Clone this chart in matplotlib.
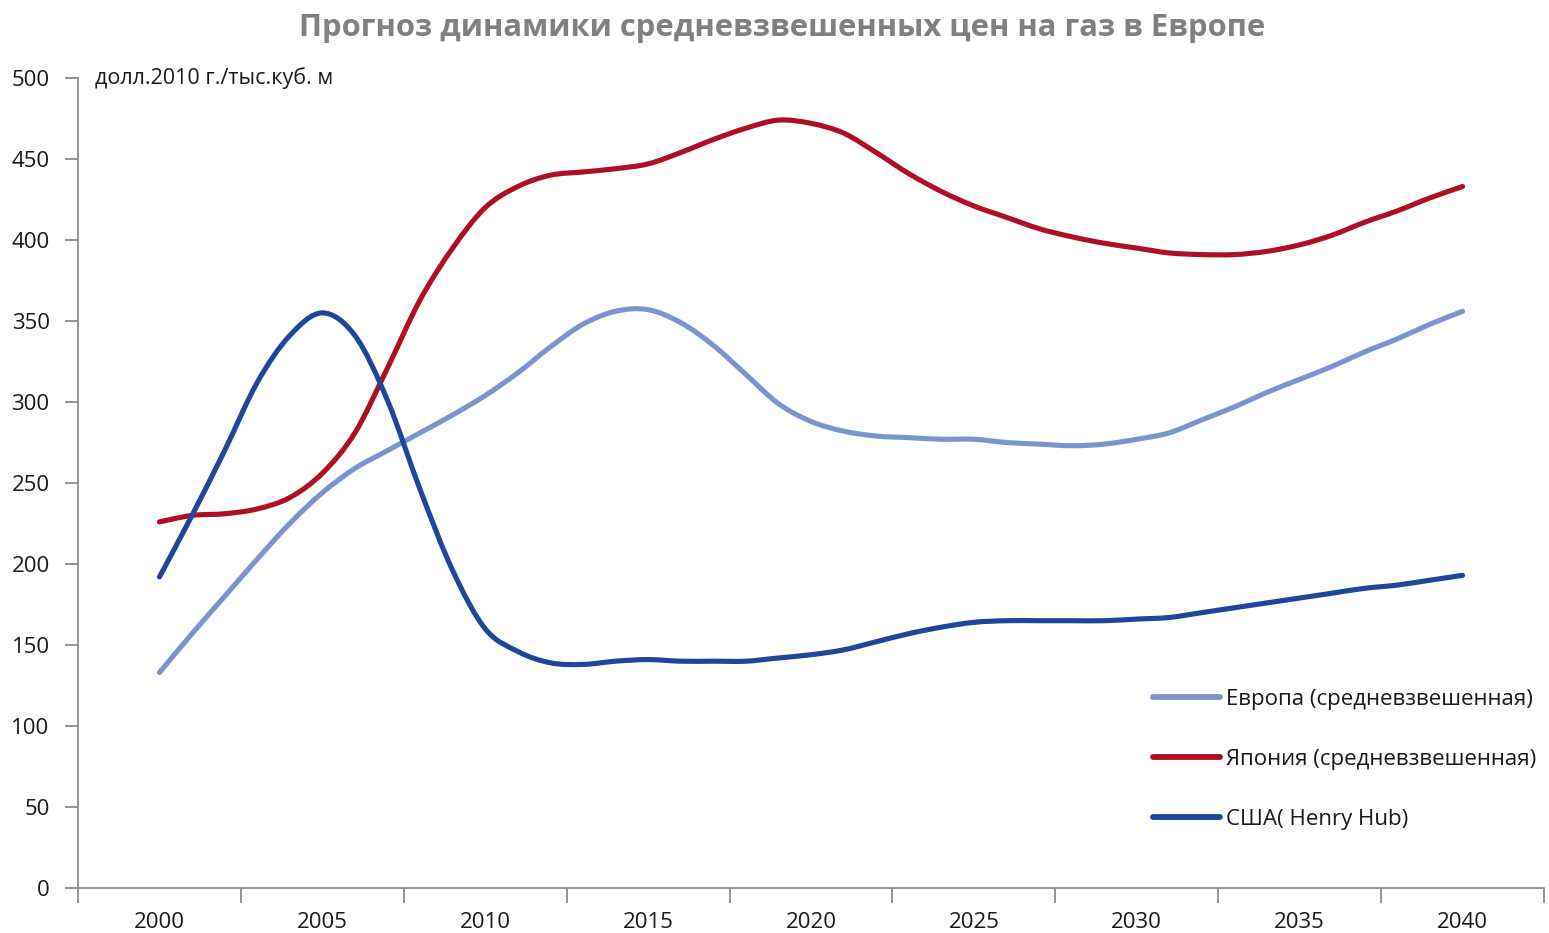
import matplotlib
matplotlib.use("Agg")
import matplotlib.pyplot as plt
from matplotlib.path import Path
from matplotlib.patches import PathPatch
from matplotlib.lines import Line2D

years = list(range(2000, 2041))
europe = [133, 157, 180, 203, 225, 244, 259, 270, 281, 292,
          304, 318, 334, 348, 356, 357, 349, 335, 317, 299,
          288, 282, 279, 278, 277, 277, 275, 274, 273, 274,
          277, 281, 289, 297, 306, 314, 322, 331, 339, 348, 356]
japan = [226, 230, 231, 234, 241, 256, 281, 321, 363, 395,
         420, 433, 440, 442, 444, 447, 454, 462, 469, 474,
         472, 466, 454, 441, 430, 421, 414, 407, 402, 398,
         395, 392, 391, 391, 393, 397, 403, 411, 418, 426, 433]
usa = [192, 230, 270, 312, 341, 355, 341, 301, 246, 196,
       160, 146, 139, 138, 140, 141, 140, 140, 140, 142,
       144, 147, 152, 157, 161, 164, 165, 165, 165, 165,
       166, 167, 170, 173, 176, 179, 182, 185, 187, 190, 193]
series_names = ["Европа (средневзвешенная)", "Япония (средневзвешенная)", "США( Henry Hub)"]
series_colors = ["#7a95cd", "#ae0f24", "#1e4799"]
xtick_years = [2000, 2005, 2010, 2015, 2020, 2025, 2030, 2035, 2040]
ytick_vals = [0, 50, 100, 150, 200, 250, 300, 350, 400, 450, 500]
title = "Прогноз динамики средневзвешенных цен на газ в Европе"
unit_label = "долл.2010 г./тыс.куб. м"


def smooth_path(xs, ys):
    """Smoothed line through the data points (cubic Bezier, Catmull-Rom tangents)."""
    n = len(xs)
    verts = [(xs[0], ys[0])]
    codes = [Path.MOVETO]
    for i in range(n - 1):
        x0, y0 = (xs[i - 1], ys[i - 1]) if i > 0 else (xs[i], ys[i])
        x1, y1 = xs[i], ys[i]
        x2, y2 = xs[i + 1], ys[i + 1]
        x3, y3 = (xs[i + 2], ys[i + 2]) if i + 2 < n else (x2, y2)
        c1 = (x1 + (x2 - x0) / 6.0, y1 + (y2 - y0) / 6.0)
        c2 = (x2 - (x3 - x1) / 6.0, y2 - (y3 - y1) / 6.0)
        verts += [c1, c2, (x2, y2)]
        codes += [Path.CURVE4] * 3
    return Path(verts, codes)


W, H = 1549, 933
fig = plt.figure(figsize=(W / 100, H / 100), dpi=100)
ax = fig.add_axes([78 / W, 1 - 888 / H, (1544 - 78) / W, (888 - 78) / H])

handles = []
for vals, name, col in zip([europe, japan, usa], series_names, series_colors):
    patch = PathPatch(smooth_path(years, vals), facecolor="none", edgecolor=col,
                      lw=3.7, capstyle="round", joinstyle="round", zorder=3)
    ax.add_patch(patch)
    handles.append(Line2D([], [], color=col, lw=4.2, solid_capstyle="round", label=name))

ax.set_xlim(1997.5, 2042.5)
ax.set_ylim(0, 500)

axis_col = "#8c8c8c"
for s in ["top", "right"]:
    ax.spines[s].set_visible(False)
for s in ["left", "bottom"]:
    ax.spines[s].set_color(axis_col)
    ax.spines[s].set_linewidth(1.3)

tick_font = dict(family="Open Sans", size=16, color="#1a1a1a")
ax.set_yticks(ytick_vals)
ax.set_yticklabels([str(v) for v in ytick_vals], **tick_font)
ax.tick_params(axis="y", direction="out", length=9.4, width=1.3, color=axis_col, pad=11)

# category-style x axis: tick marks between categories, labels centred
ax.set_xticks([1997.5 + 5 * i for i in range(10)])
ax.set_xticklabels([""] * 10)
ax.tick_params(axis="x", which="major", direction="out", length=11, width=1.3, color=axis_col)
ax.set_xticks(xtick_years, minor=True)
ax.set_xticklabels([str(y) for y in xtick_years], minor=True, **tick_font)
ax.tick_params(axis="x", which="minor", length=0, pad=17)

fig.text(782.5 / W, 1 - 28 / H, title, ha="center", va="center",
         family="Open Sans", weight="bold", size=22.3, color="#808080")
fig.text(95 / W, 1 - 78 / H, unit_label, ha="left", va="center",
         family="Open Sans", size=15.5, color="#1a1a1a")

leg = ax.legend(handles=handles, loc="upper left", bbox_to_anchor=(1153 / W, 1 - 689 / H),
                bbox_transform=fig.transFigure, frameon=False,
                prop=dict(family="Open Sans", size=16), handlelength=3.0,
                handletextpad=0.3, labelspacing=1.75, borderaxespad=0, borderpad=0)
for t in leg.get_texts():
    t.set_color("#1a1a1a")

fig.savefig("out.png", dpi=100)
